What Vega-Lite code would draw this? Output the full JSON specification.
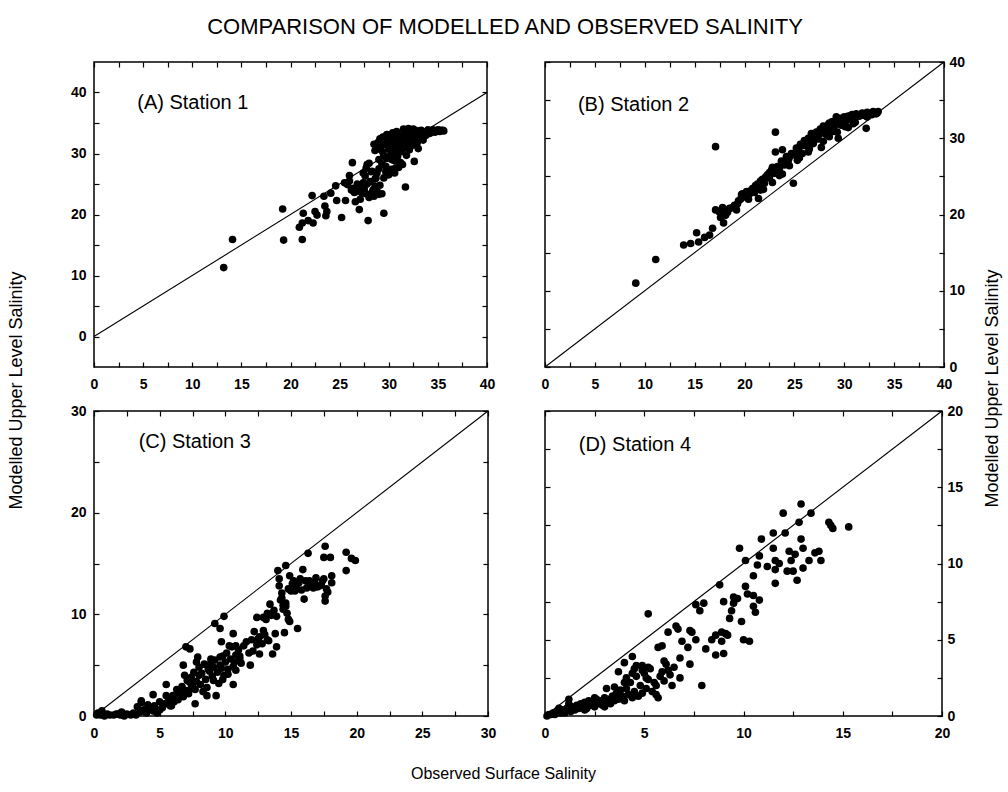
{
"$schema": "https://vega.github.io/schema/vega-lite/v6.json",
"background": "white",
"padding": {"left": 6, "top": 16, "right": 5, "bottom": 5},
"title": {"text": "COMPARISON OF MODELLED AND OBSERVED SALINITY", "font": "Liberation Sans", "fontSize": 22, "fontWeight": "normal", "color": "black", "anchor": "middle", "offset": 15, "dx": 1},
"config": {
  "font": "Liberation Sans",
  "view": {"stroke": "black", "strokeWidth": 1.5},
  "axis": {"grid": false, "domain": false, "tickColor": "black", "tickWidth": 1.2, "tickSize": -5, "labelFont": "Liberation Sans", "labelFontSize": 14, "labelFontWeight": "bold", "labelColor": "black", "labelPadding": 9, "labelFlush": false, "labelOverlap": false, "titleFont": "Liberation Sans", "titleFontSize": 18, "titleFontWeight": "normal", "titleColor": "black"},
  "axisBottom": {"labelPadding": 15},
  "axisLeft": {"labelPadding": 13},
  "axisRight": {"labelPadding": 10}
},
"datasets": {
"stationA": [
{"obs":13.2,"mod":11.3},{"obs":14.1,"mod":15.9},{"obs":19.2,"mod":20.9},{"obs":19.3,"mod":15.8},{"obs":21.2,"mod":15.9},{"obs":20.9,"mod":17.9},{"obs":21.2,"mod":18.6},{"obs":21.3,"mod":20.2},{"obs":21.8,"mod":19.0},{"obs":22.3,"mod":18.6},{"obs":22.2,"mod":23.1},{"obs":22.5,"mod":20.5},{"obs":22.7,"mod":19.9},{"obs":23.4,"mod":23.0},{"obs":23.5,"mod":21.4},{"obs":23.6,"mod":19.8},{"obs":23.7,"mod":20.5},{"obs":24.1,"mod":23.5},{"obs":24.6,"mod":24.7},{"obs":24.7,"mod":22.3},{"obs":25.2,"mod":19.5},{"obs":25.6,"mod":22.3},{"obs":25.5,"mod":25.2},{"obs":26.0,"mod":26.4},{"obs":26.3,"mod":28.5},{"obs":26.4,"mod":24.3},{"obs":26.6,"mod":22.1},{"obs":26.8,"mod":23.8},{"obs":27.0,"mod":20.8},{"obs":27.3,"mod":23.5},{"obs":27.4,"mod":25.2},{"obs":27.6,"mod":26.3},{"obs":27.8,"mod":28.2},{"obs":27.9,"mod":19.0},{"obs":28.0,"mod":23.2},{"obs":28.1,"mod":25.4},{"obs":28.3,"mod":27.1},{"obs":28.5,"mod":23.0},{"obs":28.6,"mod":24.6},{"obs":28.8,"mod":26.8},{"obs":29.0,"mod":29.0},{"obs":28.5,"mod":31.5},{"obs":29.0,"mod":31.8},{"obs":29.3,"mod":23.4},{"obs":29.5,"mod":20.2},{"obs":29.1,"mod":30.7},{"obs":29.5,"mod":29.6},{"obs":29.7,"mod":27.9},{"obs":30.0,"mod":30.7},{"obs":30.2,"mod":32.3},{"obs":30.3,"mod":29.0},{"obs":30.5,"mod":31.2},{"obs":30.7,"mod":27.6},{"obs":30.9,"mod":30.1},{"obs":31.0,"mod":32.0},{"obs":31.2,"mod":32.9},{"obs":31.4,"mod":30.7},{"obs":31.5,"mod":31.5},{"obs":31.7,"mod":24.5},{"obs":31.9,"mod":32.6},{"obs":32.0,"mod":33.4},{"obs":32.2,"mod":31.2},{"obs":32.6,"mod":28.7},{"obs":32.6,"mod":33.1},{"obs":32.9,"mod":31.8},{"obs":33.1,"mod":33.7},{"obs":33.4,"mod":32.6},{"obs":33.7,"mod":33.4},{"obs":34.3,"mod":33.7},{"obs":34.8,"mod":33.7},{"obs":35.3,"mod":33.8},{"obs":35.6,"mod":33.7},
{"obs":28.6,"mod":30.5},{"obs":28.9,"mod":31.8},{"obs":29.2,"mod":31.0},{"obs":29.4,"mod":30.2},{"obs":29.6,"mod":31.5},{"obs":29.8,"mod":29.2},{"obs":29.9,"mod":32.0},{"obs":30.1,"mod":31.0},{"obs":30.2,"mod":29.8},{"obs":30.4,"mod":32.4},{"obs":30.5,"mod":30.6},{"obs":30.6,"mod":28.8},{"obs":30.7,"mod":31.7},{"obs":30.8,"mod":32.6},{"obs":30.9,"mod":29.5},{"obs":31.0,"mod":31.2},{"obs":31.1,"mod":33.0},{"obs":31.2,"mod":30.3},{"obs":31.3,"mod":32.2},{"obs":31.4,"mod":28.2},{"obs":31.5,"mod":33.2},{"obs":31.6,"mod":31.0},{"obs":31.7,"mod":32.7},{"obs":31.8,"mod":29.7},{"obs":31.9,"mod":33.5},{"obs":32.0,"mod":31.8},{"obs":32.1,"mod":30.6},{"obs":32.2,"mod":33.0},{"obs":32.3,"mod":32.3},{"obs":32.4,"mod":33.6},{"obs":32.5,"mod":31.4},{"obs":32.6,"mod":32.9},{"obs":32.7,"mod":33.8},{"obs":32.8,"mod":32.0},{"obs":32.9,"mod":33.3},{"obs":33.0,"mod":30.8},{"obs":33.2,"mod":33.0},{"obs":33.3,"mod":33.8},{"obs":33.5,"mod":32.2},{"obs":33.6,"mod":33.5},{"obs":33.8,"mod":33.0},{"obs":34.0,"mod":33.9},{"obs":34.2,"mod":33.3},{"obs":34.5,"mod":33.9},{"obs":34.7,"mod":33.5},{"obs":35.0,"mod":33.9},{"obs":35.2,"mod":33.6},{"obs":35.5,"mod":33.8},{"obs":29.0,"mod":27.5},{"obs":29.3,"mod":28.3},{"obs":29.7,"mod":27.0},{"obs":30.0,"mod":26.5},{"obs":30.3,"mod":27.4},{"obs":30.6,"mod":26.8},{"obs":31.0,"mod":27.7},{"obs":31.2,"mod":28.5},{"obs":28.7,"mod":26.0},{"obs":28.2,"mod":27.0},{"obs":28.4,"mod":24.0},{"obs":28.6,"mod":25.8},{"obs":27.8,"mod":25.0},{"obs":27.5,"mod":24.2},{"obs":27.2,"mod":23.8},{"obs":27.0,"mod":24.6},{"obs":26.8,"mod":25.0},{"obs":26.5,"mod":23.6},{"obs":27.7,"mod":23.4},{"obs":28.0,"mod":22.8},{"obs":28.3,"mod":23.6},{"obs":29.1,"mod":24.8},{"obs":29.5,"mod":26.0},{"obs":29.0,"mod":23.3},{"obs":28.8,"mod":23.9},{"obs":26.2,"mod":24.0},{"obs":25.8,"mod":24.9},{"obs":26.0,"mod":25.5},{"obs":27.1,"mod":22.5},{"obs":27.4,"mod":26.8},{"obs":28.0,"mod":28.4},{"obs":27.7,"mod":27.6},{"obs":30.1,"mod":33.0},{"obs":30.4,"mod":33.4},{"obs":30.8,"mod":33.6},{"obs":31.5,"mod":34.0},{"obs":32.0,"mod":34.1},{"obs":31.8,"mod":33.9},{"obs":32.5,"mod":34.0},{"obs":29.8,"mod":33.1},{"obs":29.4,"mod":32.7},{"obs":29.1,"mod":32.4}
],
"stationB": [
{"obs":9.1,"mod":11.0},{"obs":11.1,"mod":14.1},{"obs":13.9,"mod":16.0},{"obs":14.6,"mod":16.2},{"obs":15.4,"mod":16.4},{"obs":15.2,"mod":17.6},{"obs":16.5,"mod":17.3},{"obs":16.8,"mod":18.2},{"obs":17.1,"mod":28.9},{"obs":17.1,"mod":20.6},{"obs":17.6,"mod":19.6},{"obs":17.9,"mod":18.9},{"obs":18.1,"mod":19.9},{"obs":18.3,"mod":20.3},{"obs":18.8,"mod":20.9},{"obs":19.3,"mod":21.4},{"obs":19.6,"mod":22.0},{"obs":19.8,"mod":22.7},{"obs":20.3,"mod":22.5},{"obs":20.6,"mod":23.1},{"obs":21.4,"mod":22.1},{"obs":21.1,"mod":23.8},{"obs":21.6,"mod":24.4},{"obs":21.9,"mod":23.3},{"obs":22.1,"mod":24.9},{"obs":22.5,"mod":25.5},{"obs":22.8,"mod":26.2},{"obs":23.1,"mod":30.8},{"obs":23.1,"mod":28.2},{"obs":23.5,"mod":25.1},{"obs":23.8,"mod":28.5},{"obs":24.0,"mod":26.8},{"obs":24.5,"mod":27.5},{"obs":24.9,"mod":24.1},{"obs":25.2,"mod":28.2},{"obs":25.3,"mod":27.1},{"obs":25.7,"mod":29.0},{"obs":26.0,"mod":29.7},{"obs":26.4,"mod":28.2},{"obs":26.7,"mod":30.6},{"obs":26.9,"mod":29.3},{"obs":27.4,"mod":29.9},{"obs":27.7,"mod":28.8},{"obs":27.9,"mod":31.6},{"obs":28.2,"mod":30.5},{"obs":28.5,"mod":32.0},{"obs":28.9,"mod":30.9},{"obs":29.2,"mod":32.8},{"obs":29.4,"mod":30.0},{"obs":29.7,"mod":31.7},{"obs":30.1,"mod":32.5},{"obs":30.4,"mod":31.4},{"obs":30.7,"mod":33.0},{"obs":31.1,"mod":32.1},{"obs":31.6,"mod":33.0},{"obs":32.2,"mod":31.3},{"obs":32.3,"mod":32.8},{"obs":32.8,"mod":33.1},{"obs":33.3,"mod":33.3},
{"obs":19.0,"mod":21.2},{"obs":19.4,"mod":21.8},{"obs":19.7,"mod":22.6},{"obs":20.0,"mod":22.3},{"obs":20.2,"mod":23.0},{"obs":20.5,"mod":22.7},{"obs":20.8,"mod":23.4},{"obs":21.0,"mod":22.9},{"obs":21.3,"mod":24.0},{"obs":21.5,"mod":23.6},{"obs":21.8,"mod":24.6},{"obs":22.0,"mod":24.1},{"obs":22.3,"mod":25.2},{"obs":22.5,"mod":24.8},{"obs":22.7,"mod":25.8},{"obs":23.0,"mod":25.4},{"obs":23.3,"mod":26.3},{"obs":23.5,"mod":26.0},{"obs":23.7,"mod":27.0},{"obs":24.0,"mod":26.5},{"obs":24.2,"mod":27.6},{"obs":24.4,"mod":27.1},{"obs":24.7,"mod":28.0},{"obs":25.0,"mod":27.8},{"obs":25.2,"mod":28.7},{"obs":25.4,"mod":28.4},{"obs":25.6,"mod":29.2},{"obs":25.8,"mod":28.0},{"obs":26.0,"mod":29.4},{"obs":26.2,"mod":29.0},{"obs":26.4,"mod":30.0},{"obs":26.6,"mod":29.5},{"obs":26.8,"mod":30.3},{"obs":27.0,"mod":29.8},{"obs":27.2,"mod":30.8},{"obs":27.4,"mod":30.4},{"obs":27.6,"mod":31.2},{"obs":27.8,"mod":30.7},{"obs":28.0,"mod":31.5},{"obs":28.2,"mod":31.0},{"obs":28.4,"mod":31.8},{"obs":28.6,"mod":31.3},{"obs":28.8,"mod":32.2},{"obs":29.0,"mod":31.6},{"obs":29.2,"mod":32.4},{"obs":29.4,"mod":31.9},{"obs":29.6,"mod":32.6},{"obs":29.8,"mod":32.0},{"obs":30.0,"mod":32.8},{"obs":30.2,"mod":32.3},{"obs":30.4,"mod":32.9},{"obs":30.6,"mod":32.5},{"obs":30.8,"mod":33.1},{"obs":31.0,"mod":32.7},{"obs":31.2,"mod":33.2},{"obs":31.5,"mod":32.9},{"obs":31.8,"mod":33.3},{"obs":32.0,"mod":33.0},{"obs":32.3,"mod":33.4},{"obs":32.6,"mod":33.1},{"obs":32.9,"mod":33.5},{"obs":33.2,"mod":33.2},{"obs":33.4,"mod":33.5},{"obs":27.9,"mod":29.6},{"obs":28.5,"mod":30.2},{"obs":29.3,"mod":30.8},{"obs":30.1,"mod":31.5},{"obs":30.9,"mod":31.9},{"obs":26.5,"mod":28.6},{"obs":25.5,"mod":27.4},{"obs":24.5,"mod":26.4},{"obs":23.8,"mod":25.3},{"obs":22.8,"mod":24.2},{"obs":21.6,"mod":23.2},{"obs":20.4,"mod":22.0},{"obs":19.2,"mod":20.6},{"obs":18.5,"mod":20.8},{"obs":18.0,"mod":20.0},{"obs":17.5,"mod":20.3},{"obs":17.8,"mod":20.9},{"obs":16.0,"mod":17.0}
],
"stationC": [
{"obs":7.0,"mod":6.8},{"obs":7.3,"mod":6.6},{"obs":9.2,"mod":9.1},{"obs":9.6,"mod":8.6},{"obs":9.9,"mod":9.8},{"obs":9.7,"mod":7.3},{"obs":10.3,"mod":6.9},{"obs":10.6,"mod":8.1},{"obs":10.8,"mod":6.9},{"obs":11.1,"mod":5.6},{"obs":11.9,"mod":5.0},{"obs":12.1,"mod":6.4},{"obs":12.4,"mod":9.7},{"obs":12.5,"mod":7.6},{"obs":12.6,"mod":6.1},{"obs":12.9,"mod":8.4},{"obs":13.1,"mod":9.5},{"obs":13.2,"mod":7.5},{"obs":13.4,"mod":11.0},{"obs":13.6,"mod":6.1},{"obs":13.8,"mod":8.1},{"obs":13.9,"mod":6.8},{"obs":14.0,"mod":14.3},{"obs":14.1,"mod":12.8},{"obs":14.3,"mod":11.6},{"obs":14.4,"mod":10.5},{"obs":14.5,"mod":8.2},{"obs":14.6,"mod":14.8},{"obs":14.6,"mod":10.8},{"obs":14.8,"mod":9.5},{"obs":14.9,"mod":13.8},{"obs":15.0,"mod":12.3},{"obs":15.2,"mod":13.3},{"obs":15.3,"mod":12.3},{"obs":15.5,"mod":8.6},{"obs":15.7,"mod":13.5},{"obs":15.9,"mod":14.4},{"obs":16.0,"mod":11.5},{"obs":16.2,"mod":12.6},{"obs":16.3,"mod":16.0},{"obs":16.4,"mod":13.3},{"obs":16.7,"mod":12.6},{"obs":16.9,"mod":13.6},{"obs":17.2,"mod":12.8},{"obs":17.4,"mod":13.3},{"obs":17.6,"mod":16.7},{"obs":17.5,"mod":15.6},{"obs":17.6,"mod":11.8},{"obs":17.6,"mod":11.3},{"obs":17.7,"mod":12.5},{"obs":18.0,"mod":15.6},{"obs":18.1,"mod":13.8},{"obs":18.1,"mod":13.1},{"obs":19.2,"mod":16.1},{"obs":19.2,"mod":14.3},{"obs":19.6,"mod":15.5},{"obs":19.9,"mod":15.3},
{"obs":1.7,"mod":0.2},{"obs":2.1,"mod":0.4},{"obs":3.6,"mod":1.5},{"obs":4.5,"mod":2.1},{"obs":5.0,"mod":1.4},{"obs":5.5,"mod":3.1},{"obs":5.5,"mod":2.0},{"obs":5.9,"mod":1.0},{"obs":6.3,"mod":1.9},{"obs":6.6,"mod":2.4},{"obs":6.8,"mod":5.0},{"obs":6.9,"mod":4.0},{"obs":7.3,"mod":3.3},{"obs":7.4,"mod":2.7},{"obs":7.7,"mod":1.2},{"obs":7.8,"mod":5.3},{"obs":7.9,"mod":5.8},{"obs":8.0,"mod":4.0},{"obs":8.3,"mod":2.4},{"obs":8.6,"mod":2.0},{"obs":8.7,"mod":4.6},{"obs":8.9,"mod":5.6},{"obs":9.1,"mod":3.5},{"obs":9.3,"mod":2.0},{"obs":9.6,"mod":5.0},{"obs":9.8,"mod":5.9},{"obs":9.9,"mod":4.0},{"obs":10.2,"mod":4.6},{"obs":10.6,"mod":3.1},{"obs":10.7,"mod":5.3},{"obs":10.8,"mod":4.5},{"obs":11.1,"mod":5.9},
{"obs":0.2,"mod":0.1},{"obs":0.5,"mod":0.1},{"obs":0.8,"mod":0.0},{"obs":1.0,"mod":0.2},{"obs":1.2,"mod":0.1},{"obs":1.5,"mod":0.1},{"obs":1.8,"mod":0.2},{"obs":2.0,"mod":0.1},{"obs":2.3,"mod":0.0},{"obs":2.5,"mod":0.2},{"obs":2.8,"mod":0.1},{"obs":3.0,"mod":0.3},{"obs":3.2,"mod":0.1},{"obs":3.5,"mod":0.4},{"obs":3.8,"mod":0.6},{"obs":4.0,"mod":0.3},{"obs":4.2,"mod":0.8},{"obs":4.5,"mod":0.5},{"obs":4.8,"mod":0.3},{"obs":5.0,"mod":0.6},{"obs":0.3,"mod":0.3},{"obs":0.6,"mod":0.5},{"obs":3.3,"mod":0.9},{"obs":3.6,"mod":1.3},{"obs":4.1,"mod":1.1},{"obs":4.6,"mod":1.0},
{"obs":5.2,"mod":0.8},{"obs":5.4,"mod":1.2},{"obs":5.7,"mod":1.6},{"obs":5.8,"mod":1.0},{"obs":6.0,"mod":2.0},{"obs":6.1,"mod":1.4},{"obs":6.3,"mod":2.6},{"obs":6.4,"mod":1.6},{"obs":6.5,"mod":2.2},{"obs":6.7,"mod":2.9},{"obs":6.8,"mod":1.9},{"obs":7.0,"mod":2.5},{"obs":7.1,"mod":3.5},{"obs":7.2,"mod":2.2},{"obs":7.4,"mod":3.8},{"obs":7.5,"mod":3.0},{"obs":7.6,"mod":4.3},{"obs":7.7,"mod":2.6},{"obs":7.8,"mod":3.4},{"obs":8.0,"mod":4.8},{"obs":8.1,"mod":3.1},{"obs":8.2,"mod":4.2},{"obs":8.4,"mod":5.1},{"obs":8.5,"mod":3.6},{"obs":8.6,"mod":2.8},{"obs":8.8,"mod":4.4},{"obs":8.9,"mod":5.2},{"obs":9.0,"mod":3.9},{"obs":9.1,"mod":4.8},{"obs":9.2,"mod":5.5},{"obs":9.4,"mod":4.3},{"obs":9.5,"mod":3.2},{"obs":9.6,"mod":5.8},{"obs":9.7,"mod":4.7},{"obs":9.8,"mod":3.6},{"obs":10.0,"mod":5.3},{"obs":10.1,"mod":6.2},{"obs":10.2,"mod":4.1},{"obs":10.4,"mod":5.6},{"obs":10.5,"mod":6.8},{"obs":10.6,"mod":4.9},{"obs":10.8,"mod":6.0},{"obs":11.0,"mod":6.5},{"obs":11.2,"mod":5.2},{"obs":11.4,"mod":6.9},{"obs":11.6,"mod":7.3},{"obs":11.8,"mod":6.2},{"obs":12.0,"mod":7.5},{"obs":12.2,"mod":8.3},{"obs":12.4,"mod":7.0},{"obs":12.6,"mod":7.8},{"obs":12.8,"mod":7.1},{"obs":13.0,"mod":8.0},{"obs":13.3,"mod":7.4},{"obs":13.5,"mod":9.9},{"obs":13.7,"mod":10.4},{"obs":13.9,"mod":9.8},{"obs":14.2,"mod":11.4},{"obs":14.4,"mod":10.9},{"obs":14.6,"mod":11.1},{"obs":14.7,"mod":10.1},{"obs":14.9,"mod":9.3},{"obs":14.8,"mod":12.5},{"obs":15.1,"mod":13.0},{"obs":15.4,"mod":12.8},{"obs":15.6,"mod":13.1},{"obs":15.8,"mod":12.4},{"obs":16.1,"mod":13.3},{"obs":16.5,"mod":12.9},{"obs":16.8,"mod":13.1},{"obs":17.0,"mod":12.7},{"obs":17.3,"mod":12.9},{"obs":17.5,"mod":13.5},{"obs":17.8,"mod":12.2},{"obs":14.1,"mod":13.5},{"obs":14.3,"mod":12.1},{"obs":13.2,"mod":10.1},{"obs":12.9,"mod":9.7}
],
"stationD": [
{"obs":1.2,"mod":1.1},{"obs":0.7,"mod":0.5},{"obs":3.1,"mod":1.8},{"obs":3.7,"mod":2.9},{"obs":4.0,"mod":3.5},{"obs":4.4,"mod":3.9},{"obs":4.1,"mod":2.5},{"obs":4.5,"mod":3.1},{"obs":4.9,"mod":3.3},{"obs":5.2,"mod":6.7},{"obs":5.1,"mod":2.5},{"obs":5.3,"mod":3.1},{"obs":5.6,"mod":2.0},{"obs":5.7,"mod":1.2},{"obs":5.7,"mod":4.5},{"obs":5.9,"mod":4.6},{"obs":6.0,"mod":3.6},{"obs":6.2,"mod":5.5},{"obs":6.2,"mod":3.0},{"obs":6.4,"mod":2.0},{"obs":6.6,"mod":5.9},{"obs":6.7,"mod":5.7},{"obs":6.8,"mod":3.8},{"obs":6.8,"mod":2.5},{"obs":6.9,"mod":4.9},{"obs":7.2,"mod":4.5},{"obs":7.3,"mod":5.6},{"obs":7.3,"mod":3.4},{"obs":7.4,"mod":5.5},{"obs":7.6,"mod":5.0},{"obs":7.6,"mod":7.3},{"obs":7.8,"mod":6.9},{"obs":7.9,"mod":2.0},{"obs":8.0,"mod":7.4},{"obs":8.1,"mod":4.4},{"obs":8.4,"mod":5.0},{"obs":8.6,"mod":4.0},{"obs":8.6,"mod":5.3},{"obs":8.8,"mod":8.6},{"obs":8.9,"mod":4.9},{"obs":8.9,"mod":5.5},{"obs":9.0,"mod":4.1},{"obs":9.1,"mod":5.4},{"obs":9.2,"mod":5.3},{"obs":9.0,"mod":7.5},{"obs":9.3,"mod":6.4},{"obs":9.4,"mod":6.9},{"obs":9.5,"mod":7.8},{"obs":9.5,"mod":7.4},{"obs":9.7,"mod":7.7},{"obs":9.8,"mod":11.0},{"obs":9.9,"mod":6.2},{"obs":10.0,"mod":5.0},{"obs":10.3,"mod":4.9},{"obs":10.1,"mod":10.2},{"obs":10.1,"mod":8.5},{"obs":10.2,"mod":8.0},{"obs":10.5,"mod":7.9},{"obs":10.5,"mod":9.2},{"obs":10.5,"mod":7.2},{"obs":10.6,"mod":6.8},{"obs":10.7,"mod":9.9},{"obs":10.8,"mod":7.6},{"obs":10.8,"mod":10.5},{"obs":10.9,"mod":11.6},{"obs":11.2,"mod":9.8},{"obs":11.5,"mod":11.0},{"obs":11.5,"mod":12.0},{"obs":11.6,"mod":9.6},{"obs":11.6,"mod":8.7},{"obs":11.6,"mod":10.2},{"obs":11.8,"mod":10.0},{"obs":12.0,"mod":13.3},{"obs":12.1,"mod":12.0},{"obs":12.2,"mod":9.5},{"obs":12.3,"mod":10.8},{"obs":12.4,"mod":10.2},{"obs":12.5,"mod":9.5},{"obs":12.6,"mod":10.6},{"obs":12.7,"mod":8.9},{"obs":12.8,"mod":12.7},{"obs":12.9,"mod":13.9},{"obs":12.9,"mod":11.6},{"obs":13.0,"mod":11.0},{"obs":13.0,"mod":9.7},{"obs":13.3,"mod":10.2},{"obs":13.4,"mod":13.3},{"obs":13.6,"mod":10.7},{"obs":13.8,"mod":10.8},{"obs":13.9,"mod":10.2},{"obs":14.3,"mod":12.7},{"obs":14.4,"mod":12.5},{"obs":14.5,"mod":12.3},{"obs":15.3,"mod":12.4},
{"obs":0.1,"mod":0.0},{"obs":0.2,"mod":0.1},{"obs":0.3,"mod":0.1},{"obs":0.4,"mod":0.2},{"obs":0.5,"mod":0.1},{"obs":0.6,"mod":0.3},{"obs":0.8,"mod":0.2},{"obs":0.9,"mod":0.4},{"obs":1.0,"mod":0.2},{"obs":1.1,"mod":0.5},{"obs":1.3,"mod":0.3},{"obs":1.4,"mod":0.6},{"obs":1.5,"mod":0.4},{"obs":1.6,"mod":0.7},{"obs":1.7,"mod":0.5},{"obs":1.8,"mod":0.8},{"obs":1.9,"mod":0.6},{"obs":2.0,"mod":0.9},{"obs":2.1,"mod":0.5},{"obs":2.2,"mod":1.0},{"obs":2.3,"mod":0.7},{"obs":2.4,"mod":0.9},{"obs":2.5,"mod":0.6},{"obs":2.6,"mod":1.1},{"obs":2.7,"mod":0.8},{"obs":2.8,"mod":1.0},{"obs":2.9,"mod":0.7},{"obs":3.0,"mod":1.2},{"obs":3.1,"mod":0.9},{"obs":3.2,"mod":1.1},{"obs":3.3,"mod":0.8},{"obs":3.4,"mod":1.3},{"obs":3.5,"mod":1.0},{"obs":3.6,"mod":1.5},{"obs":3.7,"mod":1.1},{"obs":3.8,"mod":1.7},{"obs":3.9,"mod":1.3},{"obs":4.0,"mod":1.0},{"obs":4.1,"mod":1.8},{"obs":4.2,"mod":1.4},{"obs":4.3,"mod":2.2},{"obs":4.4,"mod":1.2},{"obs":4.5,"mod":1.6},{"obs":4.6,"mod":2.6},{"obs":4.7,"mod":1.3},{"obs":4.8,"mod":2.0},{"obs":4.9,"mod":1.5},{"obs":5.0,"mod":2.8},{"obs":5.1,"mod":1.8},{"obs":5.2,"mod":2.4},{"obs":5.4,"mod":1.6},{"obs":5.5,"mod":2.2},{"obs":5.6,"mod":1.4},{"obs":5.8,"mod":2.6},{"obs":6.0,"mod":2.3},{"obs":6.3,"mod":2.7},{"obs":6.5,"mod":3.2},{"obs":6.1,"mod":3.4},{"obs":5.9,"mod":2.9},{"obs":4.4,"mod":2.8},{"obs":4.6,"mod":3.3},{"obs":4.9,"mod":3.0},{"obs":5.2,"mod":3.2},{"obs":4.0,"mod":2.2},{"obs":3.5,"mod":1.9},{"obs":1.2,"mod":0.8},{"obs":2.0,"mod":0.4},{"obs":3.0,"mod":0.6},{"obs":2.5,"mod":1.2}
]
},
"columns": 2,
"spacing": {"row": 44, "column": 57},
"bounds": "flush",
"concat": [
{"width": 393, "height": 305,
 "layer": [
  {"data": {"name": "stationA"}, "mark": {"type": "circle", "size": 58, "color": "black", "opacity": 1},
   "encoding": {
    "x": {"field": "obs", "type": "quantitative", "scale": {"domain": [0, 40], "nice": false, "zero": false}, "axis": {"orient": "bottom", "title": null, "values": [0,2.5,5,7.5,10,12.5,15,17.5,20,22.5,25,27.5,30,32.5,35,37.5,40], "labelExpr": "datum.value % 5 === 0 ? '' + datum.value : ''"}},
    "y": {"field": "mod", "type": "quantitative", "scale": {"domain": [-5, 45], "nice": false, "zero": false}, "axis": {"orient": "left", "values": [0,5,10,15,20,25,30,35,40], "labelExpr": "datum.value % 10 === 0 ? '' + datum.value : ''", "title": "Modelled Upper Level Salinity", "titleAngle": 270, "titleX": -78, "titleY": 328, "titleAlign": "center", "titleBaseline": "middle"}}
   }},
  {"data": {"values": [{}]}, "mark": {"type": "rule", "color": "black", "strokeWidth": 1.1},
   "encoding": {
    "x": {"datum": 0, "type": "quantitative", "scale": {"domain": [0, 40], "nice": false, "zero": false}, "axis": {"orient": "top", "title": null, "labels": false, "values": [0,2.5,5,7.5,10,12.5,15,17.5,20,22.5,25,27.5,30,32.5,35,37.5,40]}},
    "y": {"datum": 0, "type": "quantitative", "scale": {"domain": [-5, 45], "nice": false, "zero": false}, "axis": {"orient": "right", "title": null, "labels": false, "values": [0,5,10,15,20,25,30,35,40]}},
    "x2": {"datum": 40}, "y2": {"datum": 40}
   }},
  {"data": {"values": [{}]}, "mark": {"type": "text", "text": "(A) Station 1", "align": "left", "baseline": "middle", "font": "Liberation Sans", "fontSize": 20, "color": "black"},
   "encoding": {
    "x": {"datum": 4.4, "type": "quantitative", "scale": {"domain": [0, 40], "nice": false, "zero": false}, "axis": null},
    "y": {"datum": 38.2, "type": "quantitative", "scale": {"domain": [-5, 45], "nice": false, "zero": false}, "axis": null}
   }}
 ],
 "resolve": {"axis": {"x": "independent", "y": "independent"}}
},
{"width": 399, "height": 305,
 "layer": [
  {"data": {"name": "stationB"}, "mark": {"type": "circle", "size": 58, "color": "black", "opacity": 1},
   "encoding": {
    "x": {"field": "obs", "type": "quantitative", "scale": {"domain": [0, 40], "nice": false, "zero": false}, "axis": {"orient": "bottom", "title": null, "values": [0,2.5,5,7.5,10,12.5,15,17.5,20,22.5,25,27.5,30,32.5,35,37.5,40], "labelExpr": "datum.value % 5 === 0 ? '' + datum.value : ''"}},
    "y": {"field": "mod", "type": "quantitative", "scale": {"domain": [0, 40], "nice": false, "zero": false}, "axis": {"orient": "right", "values": [0,5,10,15,20,25,30,35,40], "labelExpr": "datum.value % 10 === 0 ? '' + datum.value : ''", "title": "Modelled Upper Level Salinity", "titleAngle": 270, "titleX": 48, "titleY": 326, "titleAlign": "center", "titleBaseline": "middle"}}
   }},
  {"data": {"values": [{}]}, "mark": {"type": "rule", "color": "black", "strokeWidth": 1.1},
   "encoding": {
    "x": {"datum": 0, "type": "quantitative", "scale": {"domain": [0, 40], "nice": false, "zero": false}, "axis": {"orient": "top", "title": null, "labels": false, "values": [0,2.5,5,7.5,10,12.5,15,17.5,20,22.5,25,27.5,30,32.5,35,37.5,40]}},
    "y": {"datum": 0, "type": "quantitative", "scale": {"domain": [0, 40], "nice": false, "zero": false}, "axis": {"orient": "left", "title": null, "labels": false, "values": [0,5,10,15,20,25,30,35,40]}},
    "x2": {"datum": 40}, "y2": {"datum": 40}
   }},
  {"data": {"values": [{}]}, "mark": {"type": "text", "text": "(B) Station 2", "align": "left", "baseline": "middle", "font": "Liberation Sans", "fontSize": 20, "color": "black"},
   "encoding": {
    "x": {"datum": 3.3, "type": "quantitative", "scale": {"domain": [0, 40], "nice": false, "zero": false}, "axis": null},
    "y": {"datum": 34.3, "type": "quantitative", "scale": {"domain": [0, 40], "nice": false, "zero": false}, "axis": null}
   }}
 ],
 "resolve": {"axis": {"x": "independent", "y": "independent"}}
},
{"width": 394, "height": 305,
 "layer": [
  {"data": {"name": "stationC"}, "mark": {"type": "circle", "size": 58, "color": "black", "opacity": 1},
   "encoding": {
    "x": {"field": "obs", "type": "quantitative", "scale": {"domain": [0, 30], "nice": false, "zero": false}, "axis": {"orient": "bottom", "values": [0,2.5,5,7.5,10,12.5,15,17.5,20,22.5,25,27.5,30], "labelExpr": "datum.value % 5 === 0 ? '' + datum.value : ''", "title": "Observed Surface Salinity", "titleX": 409, "titleY": 57, "titleAlign": "center", "titleBaseline": "middle", "titleFontSize": 16}},
    "y": {"field": "mod", "type": "quantitative", "scale": {"domain": [0, 30], "nice": false, "zero": false}, "axis": {"orient": "left", "title": null, "values": [0,5,10,15,20,25,30], "labelExpr": "datum.value % 10 === 0 ? '' + datum.value : ''"}}
   }},
  {"data": {"values": [{}]}, "mark": {"type": "rule", "color": "black", "strokeWidth": 1.1},
   "encoding": {
    "x": {"datum": 0, "type": "quantitative", "scale": {"domain": [0, 30], "nice": false, "zero": false}, "axis": {"orient": "top", "title": null, "labels": false, "values": [0,2.5,5,7.5,10,12.5,15,17.5,20,22.5,25,27.5,30]}},
    "y": {"datum": 0, "type": "quantitative", "scale": {"domain": [0, 30], "nice": false, "zero": false}, "axis": {"orient": "right", "title": null, "labels": false, "values": [0,5,10,15,20,25,30]}},
    "x2": {"datum": 30}, "y2": {"datum": 30}
   }},
  {"data": {"values": [{}]}, "mark": {"type": "text", "text": "(C) Station 3", "align": "left", "baseline": "middle", "font": "Liberation Sans", "fontSize": 20, "color": "black"},
   "encoding": {
    "x": {"datum": 3.4, "type": "quantitative", "scale": {"domain": [0, 30], "nice": false, "zero": false}, "axis": null},
    "y": {"datum": 27.0, "type": "quantitative", "scale": {"domain": [0, 30], "nice": false, "zero": false}, "axis": null}
   }}
 ],
 "resolve": {"axis": {"x": "independent", "y": "independent"}}
},
{"width": 397, "height": 305,
 "layer": [
  {"data": {"name": "stationD"}, "mark": {"type": "circle", "size": 58, "color": "black", "opacity": 1},
   "encoding": {
    "x": {"field": "obs", "type": "quantitative", "scale": {"domain": [0, 20], "nice": false, "zero": false}, "axis": {"orient": "bottom", "title": null, "values": [0,2.5,5,7.5,10,12.5,15,17.5,20], "labelExpr": "datum.value % 5 === 0 ? '' + datum.value : ''"}},
    "y": {"field": "mod", "type": "quantitative", "scale": {"domain": [0, 20], "nice": false, "zero": false}, "axis": {"orient": "right", "title": null, "values": [0,2.5,5,7.5,10,12.5,15,17.5,20], "labelExpr": "datum.value % 5 === 0 ? '' + datum.value : ''"}}
   }},
  {"data": {"values": [{}]}, "mark": {"type": "rule", "color": "black", "strokeWidth": 1.1},
   "encoding": {
    "x": {"datum": 0, "type": "quantitative", "scale": {"domain": [0, 20], "nice": false, "zero": false}, "axis": {"orient": "top", "title": null, "labels": false, "values": [0,2.5,5,7.5,10,12.5,15,17.5,20]}},
    "y": {"datum": 0, "type": "quantitative", "scale": {"domain": [0, 20], "nice": false, "zero": false}, "axis": {"orient": "left", "title": null, "labels": false, "values": [0,2.5,5,7.5,10,12.5,15,17.5,20]}},
    "x2": {"datum": 20}, "y2": {"datum": 20}
   }},
  {"data": {"values": [{}]}, "mark": {"type": "text", "text": "(D) Station 4", "align": "left", "baseline": "middle", "font": "Liberation Sans", "fontSize": 20, "color": "black"},
   "encoding": {
    "x": {"datum": 1.7, "type": "quantitative", "scale": {"domain": [0, 20], "nice": false, "zero": false}, "axis": null},
    "y": {"datum": 17.8, "type": "quantitative", "scale": {"domain": [0, 20], "nice": false, "zero": false}, "axis": null}
   }}
 ],
 "resolve": {"axis": {"x": "independent", "y": "independent"}}
}
]
}
